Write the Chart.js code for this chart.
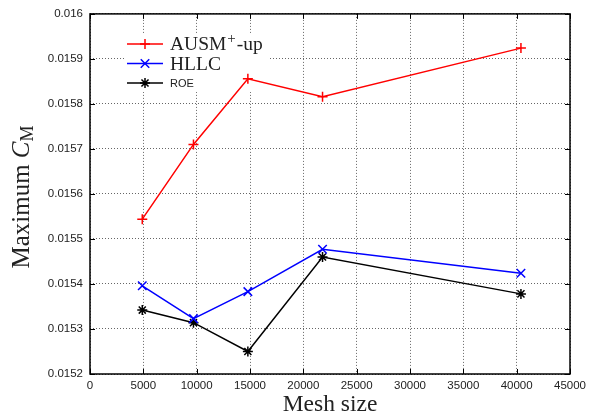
<!DOCTYPE html>
<html>
<head>
<meta charset="utf-8">
<script src="https://cdn.jsdelivr.net/npm/chart.js@4"></script>
<style>
  body { margin: 0; background: #fff; }
  #wrap { width: 591px; height: 418px; position: relative; }
</style>
</head>
<body>
<div id="wrap"><canvas id="cmChart"></canvas></div>
<script>
const meshSize = [4900, 9700, 14800, 21800, 40400];
const ausm = [0.015544, 0.015710, 0.015856, 0.015816, 0.015924];
const hllc = [0.015396, 0.015323, 0.015383, 0.015477, 0.015424];
const roe = [0.015342, 0.015314, 0.015250, 0.015460, 0.015378];
const seriesLabels = ["AUSM⁺-up", "HLLC", "ROE"];

const toPoints = (ys) => meshSize.map((x, i) => ({ x: x, y: ys[i] }));

// small marker drawer for the legend (same shapes as the chart points)
function drawMarker(c, style, x, y, r) {
  c.beginPath();
  if (style === "cross" || style === "star") {
    c.moveTo(x - r, y); c.lineTo(x + r, y);
    c.moveTo(x, y - r); c.lineTo(x, y + r);
  }
  if (style === "crossRot" || style === "star") {
    const d = r * Math.SQRT1_2;
    c.moveTo(x - d, y - d); c.lineTo(x + d, y + d);
    c.moveTo(x - d, y + d); c.lineTo(x + d, y - d);
  }
  c.stroke();
}

const frameAndLegend = {
  id: "frameAndLegend",
  beforeDatasetsDraw(chart) {
    const c = chart.ctx;
    const area = chart.chartArea;
    const xs = chart.scales.x, ys = chart.scales.y;
    c.save();
    // inward tick marks
    c.strokeStyle = "#000";
    c.lineWidth = 1;
    c.beginPath();
    ys.ticks.forEach((t, i) => {
      const py = Math.round(ys.getPixelForTick(i)) + 0.5;
      c.moveTo(area.left, py); c.lineTo(area.left + 5, py);
      c.moveTo(area.right, py); c.lineTo(area.right - 5, py);
    });
    xs.ticks.forEach((t, i) => {
      const px = Math.round(xs.getPixelForTick(i)) + 0.5;
      c.moveTo(px, area.bottom); c.lineTo(px, area.bottom - 5);
      c.moveTo(px, area.top); c.lineTo(px, area.top + 5);
    });
    c.stroke();

    // legend box
    c.fillStyle = "#fff";
    c.fillRect(124, 34, 146, 58);
    const rows = [44, 63.5, 83];
    chart.data.datasets.forEach((ds, i) => {
      const y = rows[i];
      c.strokeStyle = ds.borderColor;
      c.lineWidth = 1.5;
      c.beginPath();
      c.moveTo(127, y); c.lineTo(163, y);
      c.stroke();
      drawMarker(c, ds.pointStyle, 145, y, ds.pointRadius);

      c.fillStyle = "#222";
      c.textBaseline = "middle";
      c.textAlign = "left";
      const label = ds.label;
      if (label === "ROE") {
        c.font = "11px 'Liberation Sans'";
        c.fillText(label, 170, y + 1);
      } else {
        const parts = label.split("⁺");
        c.font = "19.5px 'Liberation Serif'";
        c.fillText(parts[0], 170, y + 1);
        let px = 170 + c.measureText(parts[0]).width + 1;
        if (parts.length > 1) {
          c.font = "15px 'Liberation Serif'";
          c.fillText("+", px, y - 5);
          px += c.measureText("+").width + 1;
          c.font = "19.5px 'Liberation Serif'";
          c.fillText(parts[1], px, y + 1);
        }
      }
    });
    c.restore();
  },
  afterDatasetsDraw(chart) {
    const c = chart.ctx;
    const area = chart.chartArea;
    c.save();
    c.strokeStyle = "#000";
    c.lineWidth = 1.5;
    c.strokeRect(area.left, area.top, area.right - area.left, area.bottom - area.top);

    // axis titles
    c.fillStyle = "#222";
    c.textBaseline = "middle";
    c.textAlign = "center";
    c.font = "23.5px 'Liberation Serif'";
    c.fillText("Mesh size", (area.left + area.right) / 2, 405);

    // y title: Maximum C_M, rotated
    const main = "Maximum ";
    c.font = "25px 'Liberation Serif'";
    const w1 = c.measureText(main).width;
    c.font = "italic 25px 'Liberation Serif'";
    const w2 = c.measureText("C").width;
    c.font = "18px 'Liberation Serif'";
    const w3 = c.measureText("M").width;
    const total = w1 + w2 + w3;
    c.translate(21, 197);
    c.rotate(-Math.PI / 2);
    c.textAlign = "left";
    c.textBaseline = "alphabetic";
    let x0 = -total / 2;
    c.font = "25px 'Liberation Serif'";
    c.fillText(main, x0, 8);
    x0 += w1;
    c.font = "italic 25px 'Liberation Serif'";
    c.fillText("C", x0, 8);
    x0 += w2;
    c.font = "18px 'Liberation Serif'";
    c.fillText("M", x0, 12);
    c.restore();
  }
};

const gridStyle = {
  color: "rgba(0,0,0,0.6)",
  lineWidth: 1,
  drawTicks: false,
};

const config = {
  type: "line",
  data: {
    datasets: [
      {
        label: seriesLabels[0],
        data: toPoints(ausm),
        borderColor: "#ff0000",
        pointStyle: "cross",
        pointRadius: 5,
      },
      {
        label: seriesLabels[1],
        data: toPoints(hllc),
        borderColor: "#0000ff",
        pointStyle: "crossRot",
        pointRadius: 6,
      },
      {
        label: seriesLabels[2],
        data: toPoints(roe),
        borderColor: "#000000",
        pointStyle: "star",
        pointRadius: 5,
      },
    ],
  },
  options: {
    responsive: true,
    maintainAspectRatio: false,
    animation: false,
    events: [],
    datasets: {
      line: {
        borderWidth: 1.5,
        pointBorderWidth: 1.5,
        pointBackgroundColor: "transparent",
        tension: 0,
        fill: false,
      },
    },
    layout: { padding: { left: 0, top: 13, right: 19, bottom: 0 } },
    scales: {
      x: {
        type: "linear",
        min: 0,
        max: 45000,
        border: { display: false, dash: [1, 2] },
        grid: gridStyle,
        ticks: {
          stepSize: 5000,
          padding: 5,
          color: "#222",
          font: { family: "'Liberation Sans'", size: 11.5 },
          maxRotation: 0,
          callback: (v) => String(v),
        },
        afterFit: (scale) => { scale.height = 44; },
      },
      y: {
        min: 0.0152,
        max: 0.016,
        border: { display: false, dash: [1, 2] },
        grid: gridStyle,
        ticks: {
          stepSize: 0.0001,
          padding: 7,
          color: "#222",
          font: { family: "'Liberation Sans'", size: 11.5 },
          callback: (v) => String(+v.toFixed(4)),
        },
        afterFit: (scale) => { scale.width = 90; },
      },
    },
    plugins: {
      legend: { display: false },
      tooltip: { enabled: false },
    },
  },
  plugins: [frameAndLegend],
};

const myChart = new Chart(document.getElementById("cmChart").getContext("2d"), config);
</script>
</body>
</html>
